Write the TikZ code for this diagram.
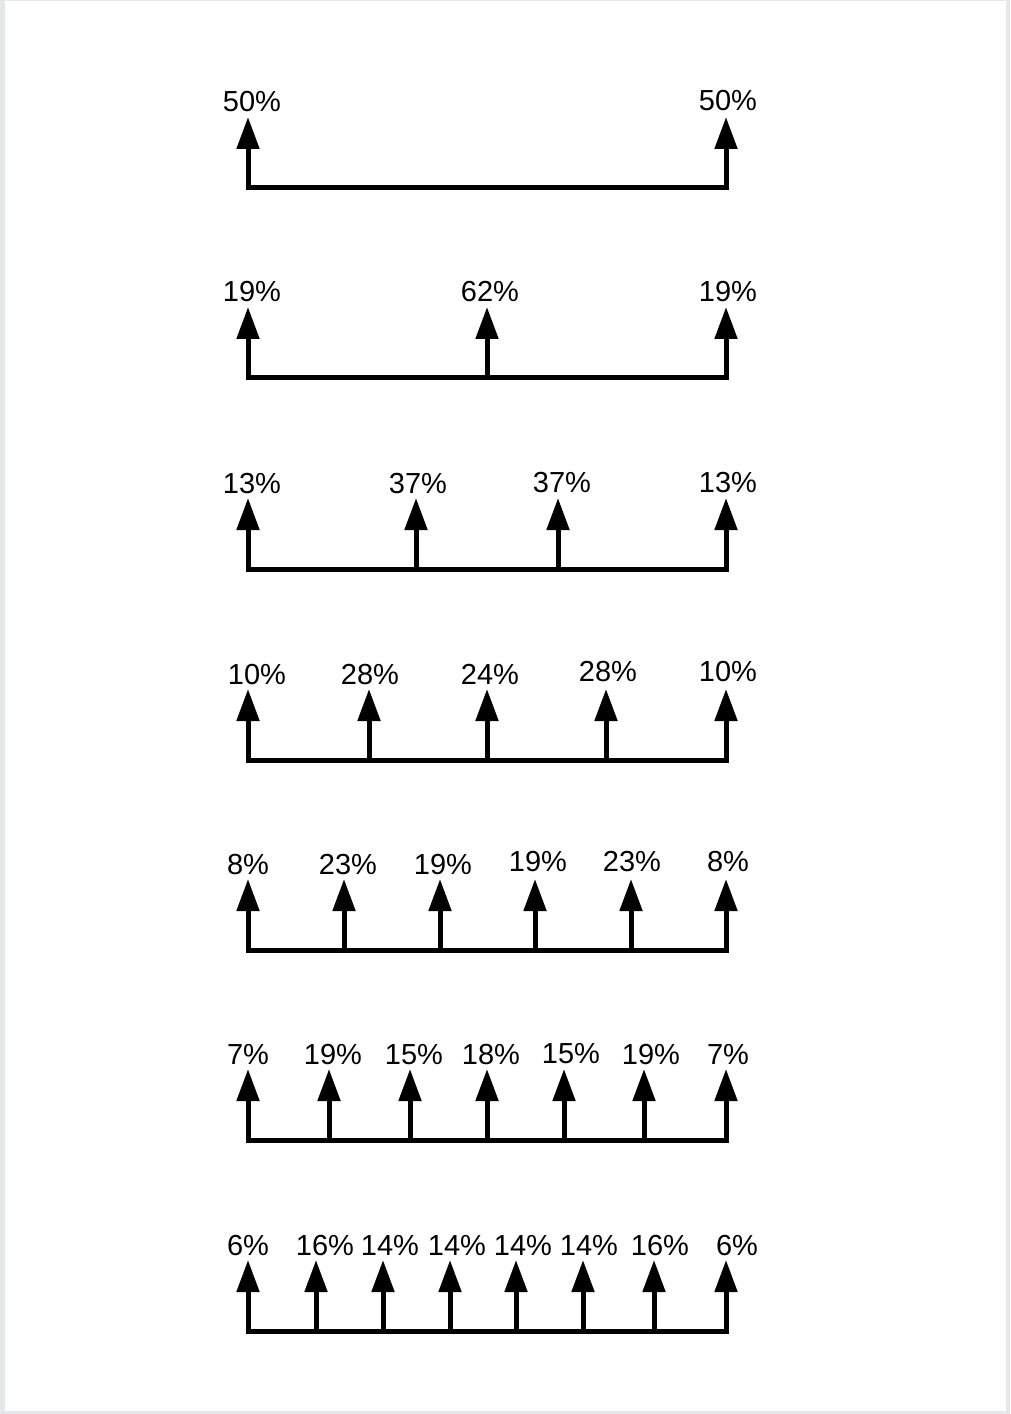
\documentclass[tikz,border=0pt]{standalone}
\usepackage{fontspec}
\setmainfont{Liberation Sans}
\usetikzlibrary{arrows.meta}
\definecolor{pagegray}{RGB}{230,231,235}
\tikzset{
    beam/.style={line width=1mm, line cap=rect},
    load/.style={line width=1mm, -{Triangle[length=6.4mm,width=4.4mm]}},
    share/.style={anchor=base, inner sep=0pt, yshift=1mm, font=\fontsize{16.5}{19}\selectfont}
}

\begin{document}
\begin{tikzpicture}[x=0.2mm,y=-0.2mm]
    % Page
    \fill[pagegray] (0,0) rectangle (1010,1414);
    \fill[white] (5,1) rectangle (1006,1411);
    \useasboundingbox (0,0) rectangle (1010,1414);

    % Two supports
    \coordinate (a1) at (248,188);
    \coordinate (a2) at (726,188);
    \draw[beam] (a1) -- (a2);
    \draw[load] (a1) -- ++(0,-71) node[share, xshift=0.8mm] (pa1) {50\%};
    \draw[load] (a2) -- ++(0,-71) node[share, xshift=0.4mm, yshift=0.2mm] (pa2) {50\%};

    % Three supports
    \coordinate (b1) at (248,378);
    \coordinate (b2) at (487,378);
    \coordinate (b3) at (726,378);
    \draw[beam] (b1) -- (b3);
    \draw[load] (b1) -- ++(0,-71) node[share, xshift=0.8mm] (pb1) {19\%};
    \draw[load] (b2) -- ++(0,-71) node[share, xshift=0.6mm] (pb2) {62\%};
    \draw[load] (b3) -- ++(0,-71) node[share, xshift=0.4mm] (pb3) {19\%};

    % Four supports
    \coordinate (c1) at (248,569);
    \coordinate (c2) at (416,569);
    \coordinate (c3) at (558,569);
    \coordinate (c4) at (726,569);
    \draw[beam] (c1) -- (c4);
    \draw[load] (c1) -- ++(0,-71) node[share, xshift=0.8mm] (pc1) {13\%};
    \draw[load] (c2) -- ++(0,-71) node[share, xshift=0.4mm] (pc2) {37\%};
    \draw[load] (c3) -- ++(0,-71) node[share, xshift=0.8mm, yshift=0.2mm] (pc3) {37\%};
    \draw[load] (c4) -- ++(0,-71) node[share, xshift=0.4mm, yshift=0.2mm] (pc4) {13\%};

    % Five supports
    \coordinate (d1) at (248,760);
    \coordinate (d2) at (369,760);
    \coordinate (d3) at (487,760);
    \coordinate (d4) at (606,760);
    \coordinate (d5) at (726,760);
    \draw[beam] (d1) -- (d5);
    \draw[load] (d1) -- ++(0,-71) node[share, xshift=1.8mm] (pd1) {10\%};
    \draw[load] (d2) -- ++(0,-71) node[share, xshift=0.2mm] (pd2) {28\%};
    \draw[load] (d3) -- ++(0,-71) node[share, xshift=0.6mm] (pd3) {24\%};
    \draw[load] (d4) -- ++(0,-71) node[share, xshift=0.4mm, yshift=0.6mm] (pd4) {28\%};
    \draw[load] (d5) -- ++(0,-71) node[share, xshift=0.4mm, yshift=0.6mm] (pd5) {10\%};

    % Six supports
    \coordinate (e1) at (248,950);
    \coordinate (e2) at (344,950);
    \coordinate (e3) at (440,950);
    \coordinate (e4) at (535,950);
    \coordinate (e5) at (631,950);
    \coordinate (e6) at (726,950);
    \draw[beam] (e1) -- (e6);
    \draw[load] (e1) -- ++(0,-71) node[share] (pe1) {8\%};
    \draw[load] (e2) -- ++(0,-71) node[share, xshift=0.8mm] (pe2) {23\%};
    \draw[load] (e3) -- ++(0,-71) node[share, xshift=0.6mm] (pe3) {19\%};
    \draw[load] (e4) -- ++(0,-71) node[share, xshift=0.6mm, yshift=0.6mm] (pe4) {19\%};
    \draw[load] (e5) -- ++(0,-71) node[share, xshift=0.2mm, yshift=0.6mm] (pe5) {23\%};
    \draw[load] (e6) -- ++(0,-71) node[share, xshift=0.4mm, yshift=0.6mm] (pe6) {8\%};

    % Seven supports
    \coordinate (f1) at (248,1140);
    \coordinate (f2) at (329,1140);
    \coordinate (f3) at (410,1140);
    \coordinate (f4) at (487,1140);
    \coordinate (f5) at (564,1140);
    \coordinate (f6) at (644,1140);
    \coordinate (f7) at (726,1140);
    \draw[beam] (f1) -- (f7);
    \draw[load] (f1) -- ++(0,-71) node[share] (pf1) {7\%};
    \draw[load] (f2) -- ++(0,-71) node[share, xshift=0.8mm] (pf2) {19\%};
    \draw[load] (f3) -- ++(0,-71) node[share, xshift=0.8mm] (pf3) {15\%};
    \draw[load] (f4) -- ++(0,-71) node[share, xshift=0.8mm] (pf4) {18\%};
    \draw[load] (f5) -- ++(0,-71) node[share, xshift=1.4mm, yshift=0.2mm] (pf5) {15\%};
    \draw[load] (f6) -- ++(0,-71) node[share, xshift=1.4mm] (pf6) {19\%};
    \draw[load] (f7) -- ++(0,-71) node[share, xshift=0.4mm] (pf7) {7\%};

    % Eight supports
    \coordinate (g1) at (248,1331);
    \coordinate (g2) at (316,1331);
    \coordinate (g3) at (383,1331);
    \coordinate (g4) at (450,1331);
    \coordinate (g5) at (516,1331);
    \coordinate (g6) at (583,1331);
    \coordinate (g7) at (654,1331);
    \coordinate (g8) at (726,1331);
    \draw[beam] (g1) -- (g8);
    \draw[load] (g1) -- ++(0,-71) node[share] (pg1) {6\%};
    \draw[load] (g2) -- ++(0,-71) node[share, xshift=1.8mm] (pg2) {16\%};
    \draw[load] (g3) -- ++(0,-71) node[share, xshift=1.4mm] (pg3) {14\%};
    \draw[load] (g4) -- ++(0,-71) node[share, xshift=1.4mm] (pg4) {14\%};
    \draw[load] (g5) -- ++(0,-71) node[share, xshift=1.4mm] (pg5) {14\%};
    \draw[load] (g6) -- ++(0,-71) node[share, xshift=1.2mm] (pg6) {14\%};
    \draw[load] (g7) -- ++(0,-71) node[share, xshift=1.2mm] (pg7) {16\%};
    \draw[load] (g8) -- ++(0,-71) node[share, xshift=2.2mm] (pg8) {6\%};
\end{tikzpicture}
\end{document}
